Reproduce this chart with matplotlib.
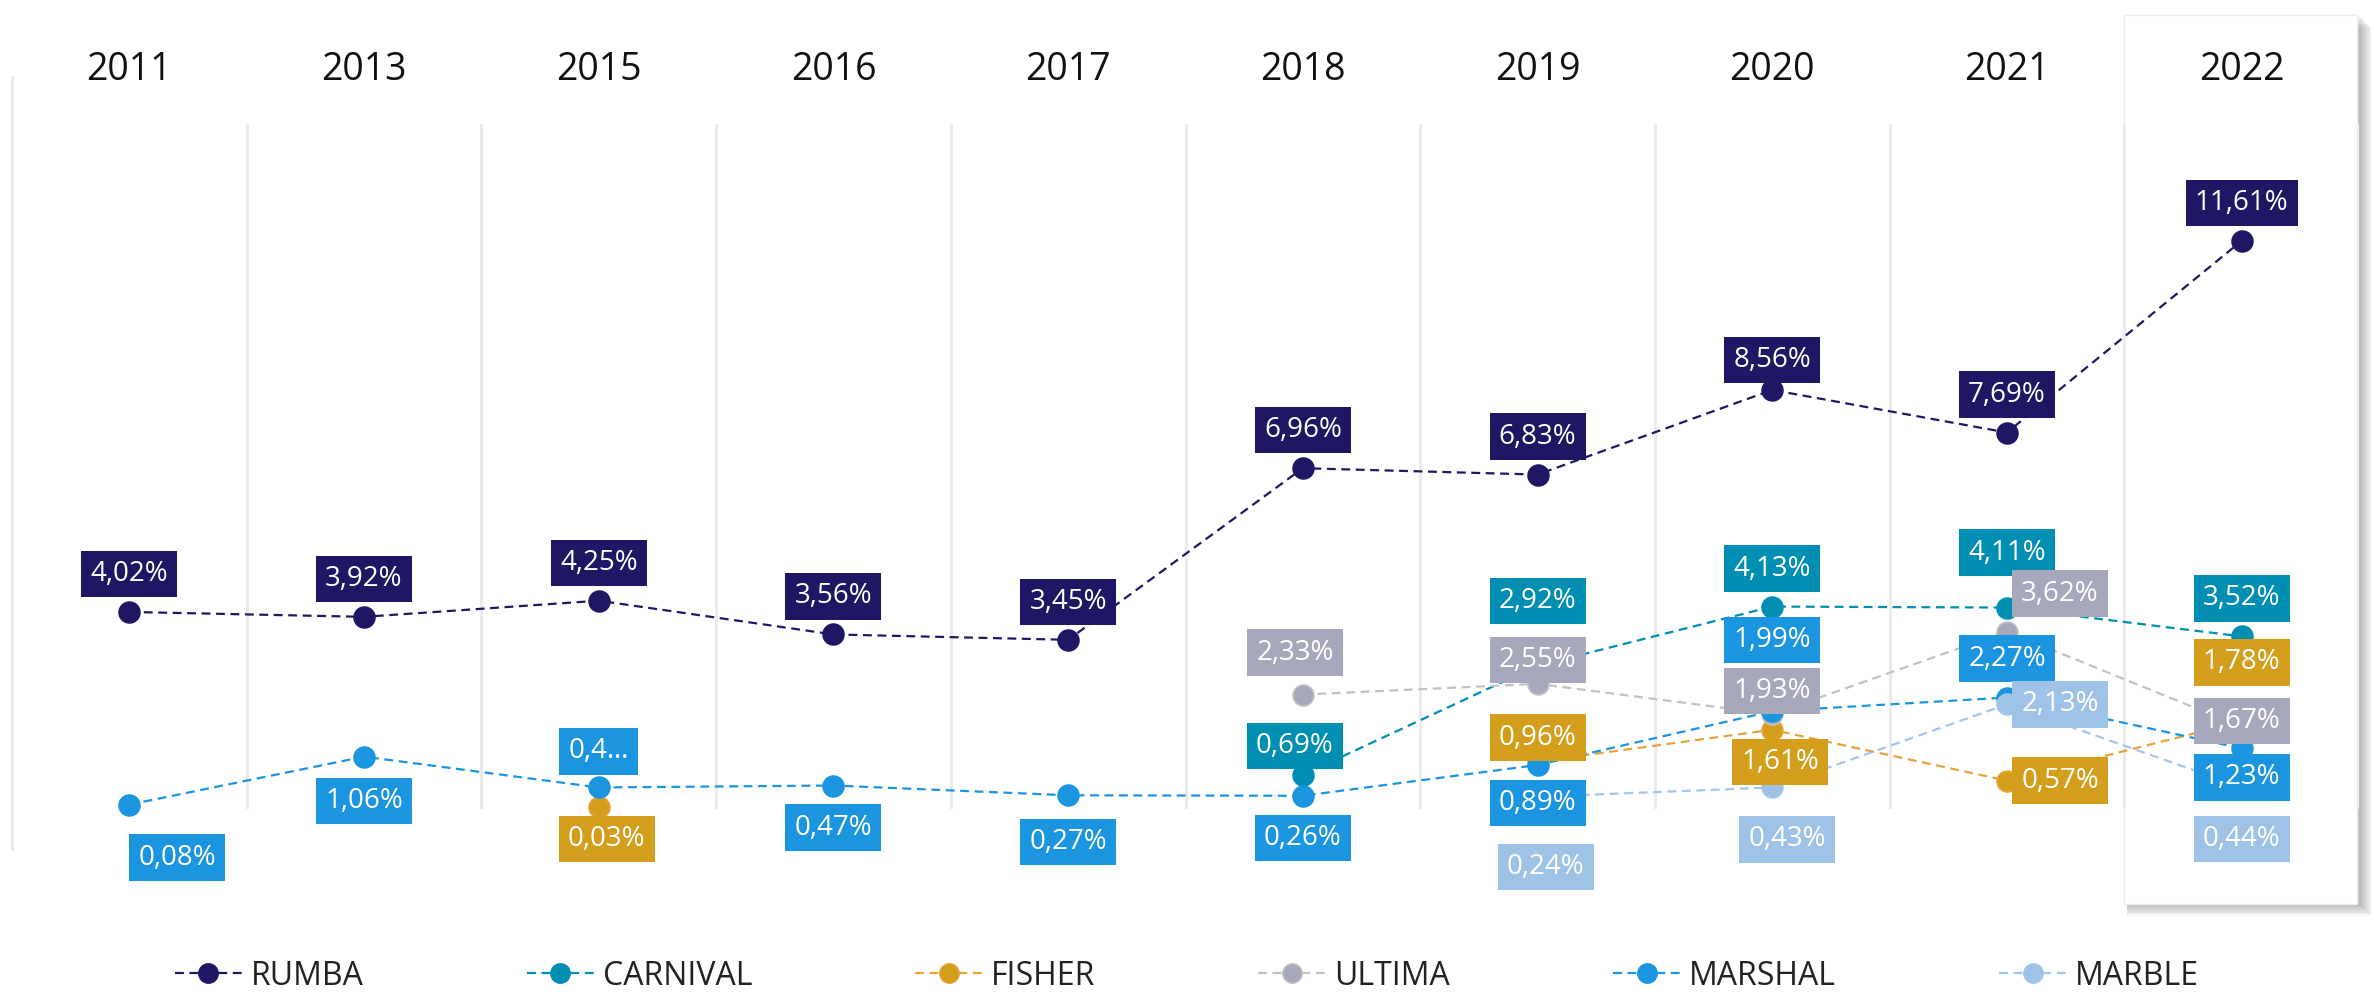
import numpy as np
import matplotlib.pyplot as plt
from matplotlib.lines import Line2D
from matplotlib.patches import Rectangle

plt.rcParams['font.family'] = ['Open Sans', 'DejaVu Sans']

years = ['2011', '2013', '2015', '2016', '2017', '2018', '2019', '2020', '2021', '2022']
nan = np.nan
rumba = [4.02, 3.92, 4.25, 3.56, 3.45, 6.96, 6.83, 8.56, 7.69, 11.61]
carnival = [nan, nan, nan, nan, nan, 0.69, 2.92, 4.13, 4.11, 3.52]
fisher = [nan, nan, 0.03, nan, nan, nan, 0.96, 1.61, 0.57, 1.78]
ultima = [nan, nan, nan, nan, nan, 2.33, 2.55, 1.93, 3.62, 1.67]
marshal = [0.08, 1.06, 0.43, 0.47, 0.27, 0.26, 0.89, 1.99, 2.27, 1.23]
marble = [nan, nan, nan, nan, nan, nan, 0.24, 0.43, 2.13, 0.44]

series = ['RUMBA', 'CARNIVAL', 'FISHER', 'ULTIMA', 'MARSHAL', 'MARBLE']
values = [rumba, carnival, fisher, ultima, marshal, marble]
box_colors = ['#1F1763', '#008FB2', '#D39E1B', '#A8A8BC', '#1B95E0', '#9FC3E7']
line_colors = ['#1F1763', '#008FB2', '#E8A33C', '#C2C2C2', '#1B95E0', '#A3C6EA']

# label offsets in pixels (dx, dy up), one per year
off = {
    'RUMBA':    [(0, 38)] * 7 + [(0, 30), (0, 38), (0, 38)],
    'CARNIVAL': [None] * 5 + [(-8, 29), (0, 65), (0, 38), (0, 55), (0, 38)],
    'FISHER':   [None, None, (8, -32), None, None, None, (0, 24), (8, -32), (53, 0), (0, 59)],
    'ULTIMA':   [None] * 5 + [(-8, 42), (0, 24), (0, 23), (53, 38), (0, 6)],
    'MARSHAL':  [(48, -53), (0, -44), (0, 36), (0, -42), (0, -47), (0, -42), (0, -38), (0, 71), (0, 39), (0, -29)],
    'MARBLE':   [None] * 6 + [(8, -70), (15, -52), (53, 0), (0, -52)],
}
text_override = {('MARSHAL', 2): '0,4…'}

W, H = 2374, 994
fig = plt.figure(figsize=(W / 100, H / 100), dpi=100)
ax = fig.add_axes([12 / W, 1 - 808.5 / H, (2359 - 12) / W, (808.5 - 124) / H])
ax.set_facecolor('none')

# highlighted 2022 column with shadow
bx0, bx1, by0, by1 = 2124, 2357, 15, 904
for k in range(7, 0, -1):
    fig.add_artist(Rectangle(((bx0 + 3) / W, 1 - (by1 + k * 1.7) / H), (bx1 - bx0 + k * 1.7) / W,
                             (by1 - by0) / H, transform=fig.transFigure, facecolor='#000000',
                             alpha=0.04, edgecolor='none', zorder=-3))
fig.add_artist(Rectangle((bx0 / W, 1 - by1 / H), (bx1 - bx0) / W, (by1 - by0) / H,
                         transform=fig.transFigure, facecolor='white', edgecolor='#EEEEEE',
                         lw=1, zorder=-2))

x = np.arange(len(years))
ax.set_xlim(-0.5, len(years) - 0.5)
ax.set_ylim(0, 14)

for b in np.arange(0.5, len(years), 1.0):
    ax.axvline(b, color='#EBEBEB', lw=2.2, zorder=0)
ax.axvline(-0.5, ymin=-0.059, ymax=1.069, color='#EBEBEB', lw=2.2, zorder=0, clip_on=False)

for i, (name, vals) in enumerate(zip(series, values)):
    ax.plot(x, vals, linestyle=(0, (4, 2.5)), lw=1.6, color=line_colors[i],
            marker='o', markersize=15, markerfacecolor=box_colors[i],
            markeredgecolor=line_colors[i], markeredgewidth=1.2, zorder=2 + i * 0.1, clip_on=False)

for i, (name, vals) in enumerate(zip(series, values)):
    for j, v in enumerate(vals):
        if np.isnan(v):
            continue
        dx, dy = off[name][j]
        txt = text_override.get((name, j), f'{v:.2f}'.replace('.', ',') + '%')
        ax.annotate(txt, (x[j], v), xytext=(dx * 0.72, dy * 0.72), textcoords='offset points',
                    ha='center', va='center', fontsize=20, color='white', zorder=5 + i * 0.1,
                    annotation_clip=False,
                    bbox=dict(boxstyle='square,pad=0.33', facecolor=box_colors[i], edgecolor='none'))

ax.xaxis.tick_top()
ax.set_xticks(x)
ax.set_xticklabels(years, fontsize=27, color='#111111')
ax.tick_params(axis='x', length=0, pad=25)
ax.set_yticks([])
for s in ax.spines.values():
    s.set_visible(False)

handles = [Line2D([], [], linestyle=(0, (4, 2.5)), lw=1.6, color=line_colors[i], marker='o',
                  markersize=14, markerfacecolor=box_colors[i], markeredgecolor=line_colors[i])
           for i in range(len(series))]
fig.legend(handles, series, loc='center', bbox_to_anchor=(0.5, 0.018), ncol=6, frameon=False,
           fontsize=23, handlelength=2.1, handletextpad=0.28, columnspacing=5.1, numpoints=1,
           labelcolor='#222222')

fig.savefig('out.png', dpi=100, facecolor='white')
